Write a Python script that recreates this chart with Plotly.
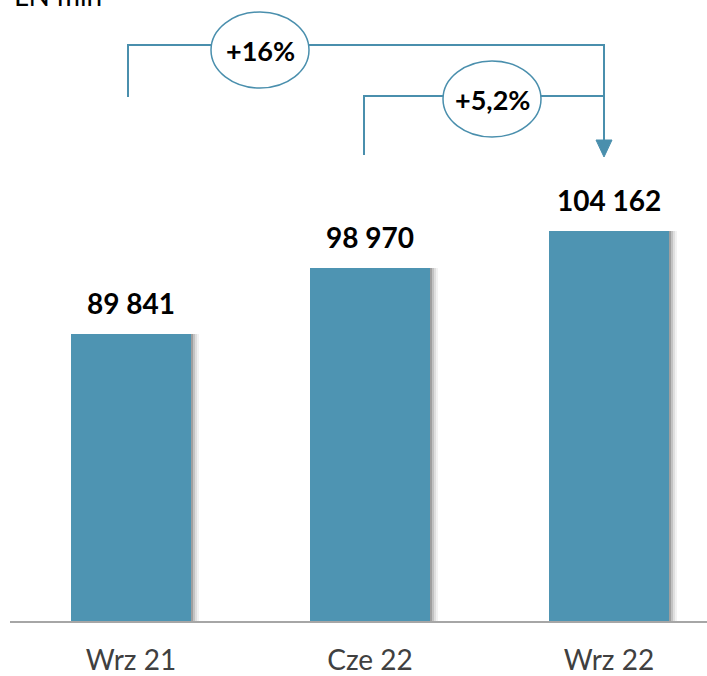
import plotly.graph_objects as go

# ---- data ----
categories = ["Wrz 21", "Cze 22", "Wrz 22"]
values = [89841, 98970, 104162]
value_labels = ["89 841", "98 970", "104 162"]
change_labels = ["+16%", "+5,2%"]
unit_label = "LN mln"

# ---- layout constants (pixels) ----
W, H = 707, 676
ML, MR, MT, MB = 10, 0, 0, 55
PW, PH = W - ML - MR, H - MT - MB
X0_PX, STEP_PX = 131, 239          # centre of first bar, spacing
Y_MIN, Y_MAX = 50000, 136200
BAR_COLOR = "#4E94B2"
LINE_COLOR = "#4A8FAD"
FONT = "Lato"

xs = list(range(len(categories)))
x_range = [(ML - X0_PX) / STEP_PX, (W - MR - X0_PX) / STEP_PX]
bar_w = 120 / STEP_PX


def px_x(px):
    return (px - ML) / PW


def px_y(py):
    return (MT + PH - py) / PH


fig = go.Figure()

# soft shadow on the right side of the bars
for off, alpha in [(8, 0.05), (6, 0.08), (4, 0.12), (2, 0.18)]:
    fig.add_trace(go.Bar(
        x=xs, y=values, width=bar_w,
        offset=-bar_w / 2 + off / STEP_PX,
        marker=dict(color=f"rgba(0,0,0,{alpha})", line=dict(width=0)),
        hoverinfo="skip", showlegend=False,
    ))

fig.add_trace(go.Bar(
    x=xs, y=values, width=bar_w, offset=-bar_w / 2,
    marker=dict(color=BAR_COLOR, line=dict(width=0)),
    showlegend=False,
))

annotations = []
for i, (v, lab) in enumerate(zip(values, value_labels)):
    annotations.append(dict(
        x=i, y=v, xref="x", yref="y", text=f"<b>{lab}</b>",
        showarrow=False, xanchor="center", yanchor="bottom", yshift=12,
        font=dict(family=FONT, size=28, color="#000000"),
    ))

annotations.append(dict(
    x=px_x(12), y=1, xref="paper", yref="paper", text=unit_label,
    showarrow=False, xanchor="left", yanchor="bottom", yshift=-14,
    font=dict(family=FONT, size=28, color="#000000"),
))

shapes = []
line = dict(color=LINE_COLOR, width=2)


def xb(i, d=-3):
    return px_x(X0_PX + STEP_PX * i + d)


# bracket 1 (Wrz 21 -> Wrz 22)
shapes.append(dict(type="path", xref="paper", yref="paper",
                   path=f"M {xb(0)},{px_y(97)} L {xb(0)},{px_y(45)} L {xb(2, -5)},{px_y(45)} L {xb(2, -5)},{px_y(142)}",
                   line=line))
# bracket 2 (Cze 22 -> Wrz 22)
shapes.append(dict(type="path", xref="paper", yref="paper",
                   path=f"M {xb(1, -6)},{px_y(155)} L {xb(1, -6)},{px_y(96)} L {xb(2, -5)},{px_y(96)}",
                   line=line))
# arrow head
shapes.append(dict(type="path", xref="paper", yref="paper",
                   path=f"M {xb(2, -13)},{px_y(140)} L {xb(2, 3)},{px_y(140)} L {xb(2, -5)},{px_y(157)} Z",
                   fillcolor=LINE_COLOR, line=dict(color=LINE_COLOR, width=1)))

# ellipses with growth labels
ell = [((260, 50), change_labels[0]), ((492, 99), change_labels[1])]
for (cx, cy), lab in ell:
    shapes.append(dict(type="circle", xref="paper", yref="paper",
                       x0=px_x(cx - 49), x1=px_x(cx + 49),
                       y0=px_y(cy + 38), y1=px_y(cy - 38),
                       fillcolor="white", line=dict(color=LINE_COLOR, width=1.5)))
    annotations.append(dict(
        x=px_x(cx), y=px_y(cy), xref="paper", yref="paper",
        text=f"<b>{lab}</b>", showarrow=False,
        xanchor="center", yanchor="middle",
        font=dict(family=FONT, size=27, color="#000000"),
    ))

fig.update_layout(
    width=W, height=H,
    margin=dict(l=ML, r=MR, t=MT, b=MB, pad=0, autoexpand=False),
    paper_bgcolor="white", plot_bgcolor="white",
    barmode="overlay", bargap=0,
    shapes=shapes, annotations=annotations,
    xaxis=dict(range=x_range, tickvals=xs, ticktext=categories,
               showgrid=False, zeroline=False, showline=True,
               linecolor="#A6A6A6", linewidth=2, ticks="",
               automargin=False, ticklabelstandoff=13,
               tickfont=dict(family=FONT, size=28, color="#404040"),
               fixedrange=True),
    yaxis=dict(range=[Y_MIN, Y_MAX], visible=False, fixedrange=True),
    font=dict(family=FONT),
)

fig.write_html("out.html", config={"displayModeBar": False},
               post_script="document.body.style.margin='0';document.body.style.overflow='hidden';")
